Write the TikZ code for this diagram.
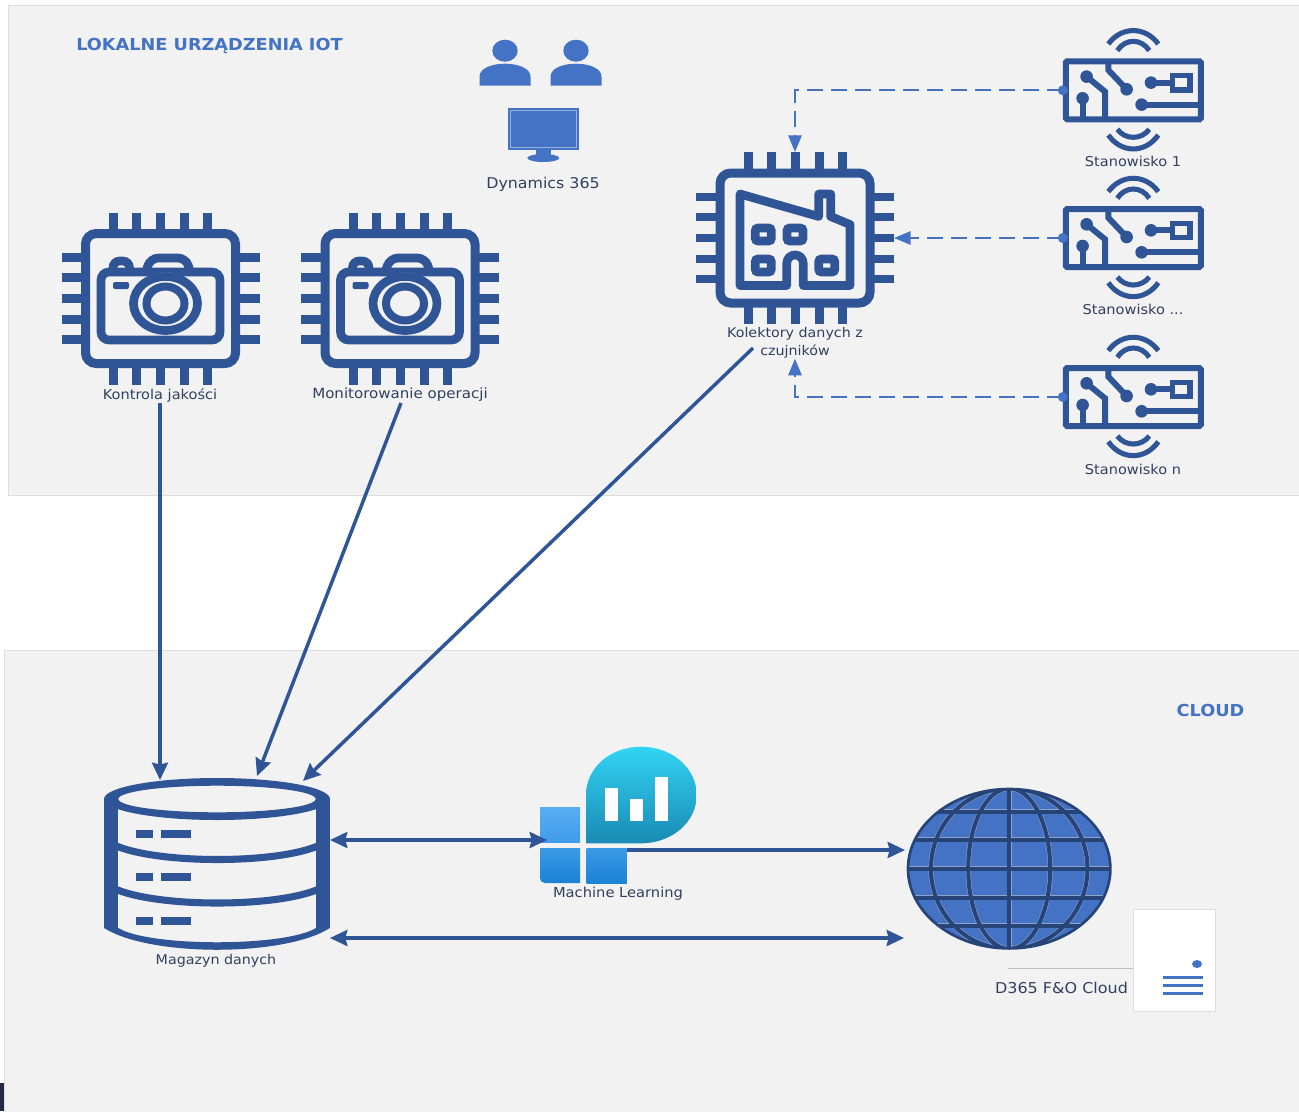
\documentclass[tikz,border=0pt]{standalone}
\usepackage{fontspec}
\setmainfont[FakeStretch=1.07]{DejaVu Sans}
\usetikzlibrary{arrows.meta}

\definecolor{panelgray}{HTML}{F2F2F2}
\definecolor{panelline}{HTML}{DDDDDD}
\definecolor{iconblue}{HTML}{2F5597}
\definecolor{flatblue}{HTML}{4472C4}
\definecolor{labelnavy}{HTML}{323F60}
\definecolor{gridline}{HTML}{264478}
\definecolor{gridedge}{HTML}{8FA3CC}

\tikzset{
    mainarrow/.style={draw=iconblue, line width=2.6pt, -{Stealth[length=13pt, width=12pt, inset=1.5pt]}},
    bothways/.style={draw=iconblue, line width=2.6pt, {Stealth[length=13pt, width=12pt, inset=1.5pt]}-{Stealth[length=13pt, width=12pt, inset=1.5pt]}},
    dashline/.style={draw=flatblue, line width=1.4pt, dash pattern=on 12pt off 6pt, -{Triangle[length=12.5pt, width=10pt]}},
    caption/.style={font=\fontsize{10.2}{13}\selectfont, text=labelnavy, align=center, inner sep=0pt},
    heading/.style={font=\fontsize{12.4}{15}\selectfont\bfseries, text=flatblue, inner sep=0pt},
    iconspot/.style={inner sep=0pt, outer sep=0pt},
    chipicon/.pic={
        \draw[iconblue, line width=6.75pt, rounded corners=8pt] (-75,-65) rectangle (75,65);
        \foreach \dx in {-47,-24,0,24,47} {
            \draw[iconblue, line width=6.75pt] (\dx,-86) -- (\dx,-68);
            \draw[iconblue, line width=6.75pt] (\dx,86) -- (\dx,68);
        }
        \foreach \dy in {-41,-21,0,21,41} {
            \draw[iconblue, line width=6.4pt] (-99,\dy) -- (-78,\dy);
            \draw[iconblue, line width=6.4pt] (99,\dy) -- (78,\dy);
        }
    },
    cameraicon/.pic={
        \draw[iconblue, line width=6.5pt, rounded corners=6pt] (-59.5,-26.5) rectangle (59.5,41.5);
        \draw[iconblue, line width=6.5pt, rounded corners=6pt] (-15,-26) -- (-10,-40.5) -- (25.5,-40.5) -- (30,-26);
        \draw[iconblue, line width=6.5pt, rounded corners=5pt] (-47.5,-26) -- (-47.5,-37.5) -- (-31,-37.5) -- (-31,-26);
        \fill[panelgray] (5,5) ellipse [x radius=36, y radius=31];
        \draw[iconblue, line width=6.5pt] (5,5) ellipse [x radius=32, y radius=27];
        \draw[iconblue, line width=6pt] (5,5) ellipse [x radius=19, y radius=17];
        \fill[iconblue, rounded corners=1.5pt] (-47.5,-16.5) rectangle (-31.5,-9.5);
    },
    factoryicon/.pic={
        \draw[iconblue, line width=6.5pt, line join=round] (-55,-44) -- (23.7,-21.5) -- (23.7,-44) -- (35.7,-44) -- (35.7,-21.5) -- (55,-13.5) -- (55,47.5) -- (8.3,47.5) -- (8.3,25.8) .. controls (8.3,14) and (-8.3,14) .. (-8.3,25.8) -- (-8.3,47.5) -- (-55,47.5) -- cycle;
        \foreach \wx/\wy in {-31.7/-3.5, 0/-3.5, -31.7/27.5, 31.7/27.5}
            \draw[iconblue, line width=6.5pt, rounded corners=2pt] (\wx-8,\wy-6.5) rectangle (\wx+8,\wy+6.5);
    },
    sensoricon/.pic={
        \draw[iconblue, line width=4.5pt, rounded corners=1pt] (-67.5,-29) rectangle (67.5,29);
        \draw[iconblue, line width=3.8pt] (-25,-46.3) .. controls (-12,-64.2) and (12,-64.2) .. (25,-46.3);
        \draw[iconblue, line width=3.8pt] (-16,-39.7) .. controls (-8,-52.1) and (8,-52.1) .. (16,-39.7);
        \draw[iconblue, line width=3.8pt] (-25,44.7) .. controls (-12,63.3) and (12,63.3) .. (25,44.7);
        \draw[iconblue, line width=3.8pt] (-16,39) .. controls (-8,49.7) and (8,49.7) .. (16,39);
        \draw[iconblue, line width=4.5pt] (-46.7,-13.7) -- (-28.3,1.3) -- (-28.3,28);
        \draw[iconblue, line width=4.5pt] (-50.7,8) -- (-50.7,28);
        \draw[iconblue, line width=4.5pt] (-25,-28.7) -- (-25,-20.3) -- (-6.7,-1);
        \draw[iconblue, line width=4.5pt] (17.7,-7.7) -- (40,-7.7);
        \draw[iconblue, line width=3.8pt] (39,-14.7) rectangle (56.7,-0.3);
        \draw[iconblue, line width=4.5pt] (8.3,14.3) -- (66.7,14.3);
        \foreach \px/\py in {-46.7/-13.7, -50.7/8, -6.7/-1, 17.7/-7.7, 8.3/14.3}
            \fill[iconblue] (\px,\py) circle [radius=6.3];
        \fill[flatblue] (-70.5,0) circle [radius=5];
    },
    usericon/.pic={
        \fill[flatblue] (0,0) ellipse [x radius=12.7, y radius=11];
        \fill[flatblue] (-25.5,35) -- (-25.5,26) .. controls (-25.5,17) and (-12,13) .. (0,13) .. controls (12,13) and (25.5,17) .. (25.5,26) -- (25.5,35) -- cycle;
    }
}

\begin{document}
\begin{tikzpicture}[x=0.75pt, y=-0.75pt]
    \useasboundingbox (0,0) rectangle (1299,1111);

    \fill[white] (0,0) rectangle (1299,1111);
    \draw[panelline, fill=panelgray] (8,5) rectangle (1302,495);
    \draw[panelline, fill=panelgray] (4,650) rectangle (1302,1114);
    \fill[labelnavy!70!black] (0,1083) rectangle (4,1111);

    \node[heading, anchor=west] (titleIot) at (76,46) {LOKALNE URZĄDZENIA IOT};
    \node[heading] (titleCloud) at (1210.5,710) {CLOUD};

    % cameras
    \node[iconspot, minimum width=148.5pt, minimum height=129pt] (camQuality) at (160.5,298.5) {};
    \node[iconspot, minimum width=148.5pt, minimum height=129pt] (camOps) at (400,298.5) {};
    \pic at (camQuality) {chipicon};
    \pic at (camQuality) {cameraicon};
    \pic at (camOps) {chipicon};
    \pic at (camOps) {cameraicon};
    \node[caption] (labQuality) at (160,395) {Kontrola jakości};
    \node[caption, font=\fontsize{10.55}{13}\selectfont] (labOps) at (400,395) {Monitorowanie operacji};

    % users and screen
    \pic at (505,50.7) {usericon};
    \pic at (576,50.7) {usericon};
    \node[iconspot, fill=flatblue, minimum width=53.2pt, minimum height=31.5pt] (screen) at (543.2,129) {};
    \draw[flatblue!55!white, line width=0.8pt] (510.2,110.5) rectangle (576.2,147.5);
    \fill[flatblue] (536,150) rectangle (550.7,155);
    \fill[flatblue] (543.3,158) ellipse [x radius=16, y radius=4];
    \node[caption, font=\fontsize{11.1}{13}\selectfont] (labScreen) at (543,184) {Dynamics 365};

    % factory and sensors
    \node[iconspot, minimum width=148.5pt, minimum height=129pt] (factory) at (795,238) {};
    \pic at (factory) {chipicon};
    \pic at (factory) {factoryicon};
    \node[caption, font=\fontsize{10}{13.5}\selectfont] (labFactory) at (795,343) {Kolektory danych z\\czujników};

    \node[iconspot, minimum width=106pt, minimum height=48pt] (sensorOne) at (1133.3,90.3) {};
    \node[iconspot, minimum width=106pt, minimum height=48pt] (sensorTwo) at (1133.3,238) {};
    \node[iconspot, minimum width=106pt, minimum height=48pt] (sensorThree) at (1133.3,397) {};
    \pic at (sensorOne) {sensoricon};
    \pic at (sensorTwo) {sensoricon};
    \pic at (sensorThree) {sensoricon};
    \node[caption] (labOne) at (1133,161) {Stanowisko 1};
    \node[caption] (labTwo) at (1133,309) {Stanowisko ...};
    \node[caption] (labThree) at (1133,469) {Stanowisko n};

    \draw[dashline] (sensorOne.west) -| (factory.north);
    \draw[dashline] (sensorTwo.west) -- (factory.east);
    \draw[dashline] (sensorThree.west) -| (labFactory.south);

    % storage
    \node[iconspot, minimum width=169.5pt, minimum height=129pt] (store) at (217,864) {};
    \fill[iconblue, even odd rule] (217,799) ellipse [x radius=113, y radius=21] (217,799) ellipse [x radius=98.7, y radius=13.3];
    \fill[iconblue] (104,799) rectangle (118.3,928);
    \fill[iconblue] (316,799) rectangle (330,928);
    \draw[iconblue, line width=5.3pt] (110,843) .. controls (150,865) and (285,865) .. (324,843);
    \draw[iconblue, line width=5.3pt] (110,886.5) .. controls (150,908.5) and (285,908.5) .. (324,886.5);
    \fill[iconblue] (104,928) .. controls (150,957) and (284,957) .. (330,928) -- (316,928) .. controls (285,947) and (149,947) .. (118.3,928) -- cycle;
    \foreach \sy in {830,873,917} {
        \fill[iconblue] (136,\sy) rectangle (153,\sy+8);
        \fill[iconblue] (161,\sy) rectangle (191,\sy+8);
    }
    \node[caption, font=\fontsize{10}{13}\selectfont] (labStore) at (216,961) {Magazyn danych};

    % machine learning
    \shade[top color={rgb,255:red,50;green,212;blue,245}, bottom color={rgb,255:red,25;green,138;blue,179}] (586,843.3) -- (586,795) .. controls (586,768) and (610,746.7) .. (641,746.7) .. controls (672,746.7) and (696.7,768) .. (696.7,795) .. controls (696.7,822) and (672,843.3) .. (641,843.3) -- cycle;
    \shade[top color={rgb,255:red,90;green,174;blue,240}, bottom color={rgb,255:red,62;green,155;blue,235}] (540,807.7) rectangle (580,842.7);
    \shade[top color={rgb,255:red,58;green,154;blue,229}, bottom color={rgb,255:red,27;green,130;blue,216}] (540,848) -- (580,848) -- (580,883) -- (545,883) .. controls (542,883) and (540,881) .. (540,878) -- cycle;
    \shade[top color={rgb,255:red,58;green,154;blue,229}, bottom color={rgb,255:red,27;green,130;blue,216}] (586.7,848) rectangle (626.7,883);
    \fill[white] (605,787.7) rectangle (617.7,821);
    \fill[white] (630,799) rectangle (642.7,821);
    \fill[white] (655,776.7) rectangle (667.7,821);
    \node[caption, font=\fontsize{10.3}{13}\selectfont] (labMl) at (618,894) {Machine Learning};

    % cloud
    \node[iconspot, minimum width=152.7pt, minimum height=120.5pt] (globe) at (1009.2,868.7) {};
    \fill[flatblue] (globe) ellipse [x radius=101.8, y radius=80.3];
    \begin{scope}
        \clip (globe) ellipse [x radius=101.8, y radius=80.3];
        \foreach \gridcol/\gridw in {gridedge/3.8pt, gridline/3pt} {
            \foreach \ly in {-57,-29,0,29,57}
                \draw[\gridcol, line width=\gridw] (1009.2-110,868.7+\ly) -- (1009.2+110,868.7+\ly);
            \draw[\gridcol, line width=\gridw] (1009.2,788) -- (1009.2,950);
            \draw[\gridcol, line width=\gridw] (globe) ellipse [x radius=41, y radius=80.3];
            \draw[\gridcol, line width=\gridw] (globe) ellipse [x radius=78.3, y radius=80.3];
        }
    \end{scope}
    \draw[gridline, line width=2pt] (globe) ellipse [x radius=101.2, y radius=79.7];
    \node[iconspot, draw=panelline, fill=white, line width=0.8pt, minimum width=61.8pt, minimum height=76.8pt] (sheet) at (1174.5,960.5) {};
    \fill[flatblue] (1197,964) ellipse [x radius=5, y radius=4];
    \foreach \ry in {977.7,985.3,993.3}
        \draw[flatblue, line width=1.9pt] (1163.3,\ry) -- (1202.7,\ry);
    \coordinate (sheetEdge) at (1133.3,968.3);
    \coordinate (globeFoot) at (1008,968.3);
    \draw[gray!50, line width=0.8pt] (globeFoot) -- (sheetEdge);
    \node[caption, font=\fontsize{11.2}{13}\selectfont] (labCloud) at (1061.5,988) {D365 F\&O Cloud};

    % flows
    \coordinate (qualityOut) at (160,403);
    \coordinate (opsOut) at (401,403);
    \coordinate (factoryOut) at (753,348);
    \coordinate (storeA) at (160,780);
    \coordinate (storeB) at (257,776);
    \coordinate (storeC) at (303,781);
    \coordinate (storeD) at (330,840);
    \coordinate (storeE) at (330,938);
    \coordinate (mlIn) at (547,840);
    \coordinate (mlOut) at (627,850);
    \coordinate (globeA) at (905,850);
    \coordinate (globeB) at (904,938);
    \draw[mainarrow] (qualityOut) -- (storeA);
    \draw[mainarrow] (opsOut) -- (storeB);
    \draw[mainarrow] (factoryOut) -- (storeC);
    \draw[bothways] (storeD) -- (mlIn);
    \draw[mainarrow] (mlOut) -- (globeA);
    \draw[bothways] (storeE) -- (globeB);
\end{tikzpicture}
\end{document}
